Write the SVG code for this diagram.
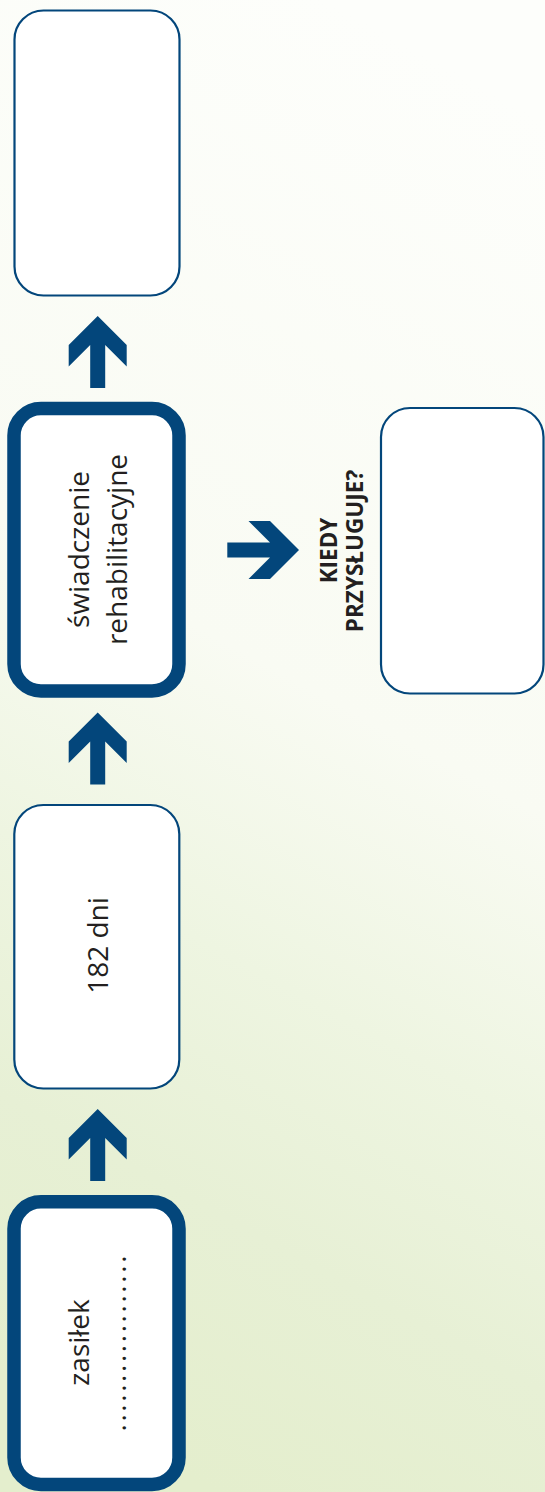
<svg xmlns="http://www.w3.org/2000/svg" width="545" height="1492" viewBox="0 0 545 1492">
  <defs>
    <linearGradient id="bg" x1="0.6" y1="0" x2="0.4" y2="1">
      <stop offset="0" stop-color="#fdfefb"/>
      <stop offset="0.45" stop-color="#f9fbf3"/>
      <stop offset="0.65" stop-color="#eef5e1"/>
      <stop offset="0.82" stop-color="#e7f0d5"/>
      <stop offset="1" stop-color="#e4eecd"/>
    </linearGradient>
    <path id="upArrow" d="M0,0 L29,29 L29,50.5 L7.5,29 L7.5,72 L-7.5,72 L-7.5,29 L-29,50.5 L-29,29 Z"/>
  </defs>
  <style>
    .thin { fill: #ffffff; stroke: #03467b; stroke-width: 2.2; }
    .thick { fill: #ffffff; stroke: #03467b; stroke-width: 13.5; }
    .arrow { fill: #03467b; }
    .lbl { font-family: "Open Sans", "Liberation Sans", sans-serif; font-size: 28px; fill: #231f20; text-anchor: middle; }
    .q { font-family: "Open Sans", "Liberation Sans", sans-serif; font-size: 22.5px; font-weight: bold; fill: #231f20; text-anchor: middle; }
  </style>
  <rect x="0" y="0" width="545" height="1492" fill="url(#bg)"/>

  <g id="connectors">
    <use href="#upArrow" class="arrow" x="97.7" y="316"/>
    <use href="#upArrow" class="arrow" x="97.7" y="712.5"/>
    <use href="#upArrow" class="arrow" x="97.7" y="1109"/>
    <path class="arrow" d="M299,550 L270,521 L248.5,521 L270,542.5 L227.3,542.5 L227.3,557.5 L270,557.5 L248.5,579 L270,579 Z"/>
  </g>

  <g id="node-top">
    <rect class="thin" x="14.5" y="10.5" width="165" height="285" rx="29"/>
  </g>

  <g id="node-swiadczenie">
    <rect class="thick" x="14" y="408.5" width="165" height="282.5" rx="27"/>
    <text class="lbl" transform="translate(89,549.5) rotate(-90)">świadczenie</text>
    <text class="lbl" transform="translate(126.5,549.5) rotate(-90)">rehabilitacyjne</text>
  </g>

  <g id="node-182">
    <rect class="thin" x="14.3" y="805" width="165" height="283.5" rx="29"/>
    <text class="lbl" transform="translate(108.3,945.5) rotate(-90)">182 dni</text>
  </g>

  <g id="node-zasilek">
    <rect class="thick" x="14" y="1201.8" width="165" height="282.7" rx="27"/>
    <text class="lbl" transform="translate(89.3,1342.5) rotate(-90)">zasiłek</text>
    <text class="lbl" transform="translate(126,1343.5) rotate(-90)" textLength="176" lengthAdjust="spacing">..................</text>
  </g>

  <g id="label-kiedy">
    <text class="q" transform="translate(336.5,550.5) rotate(-90)">KIEDY</text>
    <text class="q" transform="translate(363.3,551) rotate(-90)">PRZYSŁUGUJE?</text>
  </g>

  <g id="node-right">
    <rect class="thin" x="381" y="408" width="162.5" height="285.5" rx="29"/>
  </g>
</svg>
